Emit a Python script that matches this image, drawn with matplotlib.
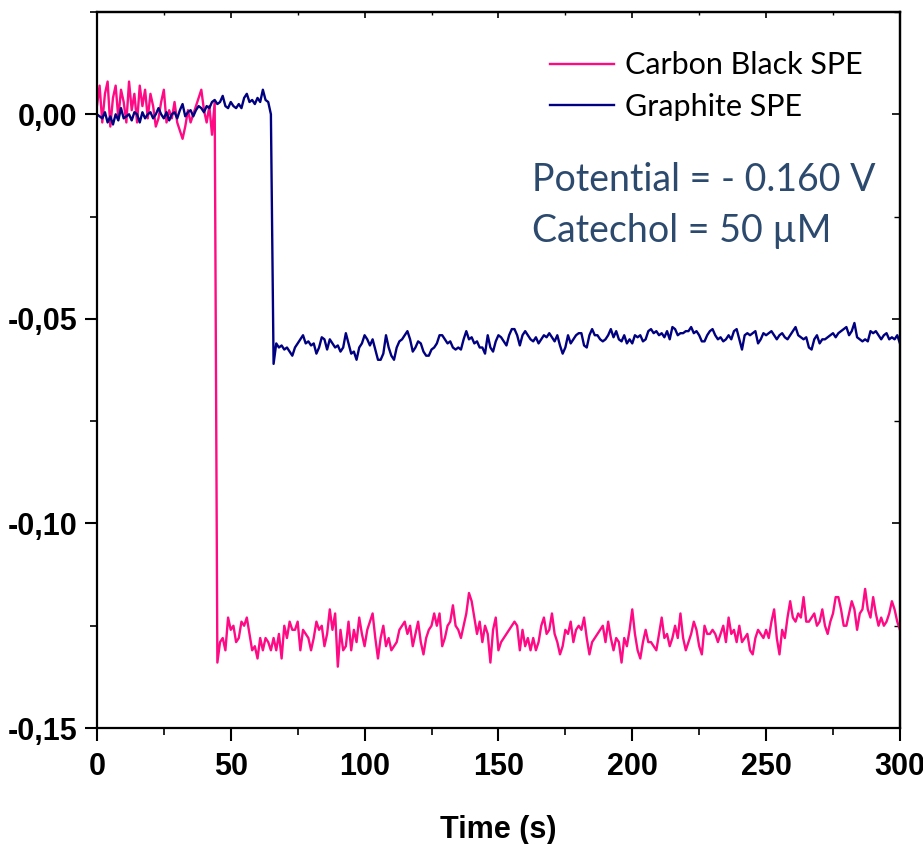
import numpy as np
import matplotlib
matplotlib.use("Agg")
import matplotlib.pyplot as plt
from matplotlib.ticker import MultipleLocator, FuncFormatter

# токи в единицах 1e-3, шаг 1 с (t = 0..300)
carbon_black = [
    2, 7, -2, 5, 8, -3, 4, 7, -1, 6,                                  # 0
    3, -2, 8, 1, 5, -2, 7, 2, 6, -1,                                  # 10
    5, 2, -3, -1, 3, 6, -2, 1, -1, 3,                                 # 20
    -2, -4, -6, -3, 1, -2, 0, 2, 4, 6,                                # 30
    1, -2, 2, -5, 3, -134, -129, -128, -131, -123,                    # 40
    -126, -125, -129, -128, -124, -125, -123, -127, -131, -130,       # 50
    -133, -128, -131, -128, -129, -131, -128, -131, -127, -133,       # 60
    -125, -128, -124, -126, -126, -124, -131, -126, -127, -128,       # 70
    -131, -128, -124, -126, -125, -130, -127, -121, -126, -122,       # 80
    -135, -126, -131, -130, -124, -131, -126, -129, -123, -127,       # 90
    -130, -126, -124, -122, -128, -133, -128, -125, -130, -128,       # 100
    -131, -130, -129, -126, -125, -124, -127, -125, -130, -127,       # 110
    -124, -129, -132, -128, -126, -125, -122, -125, -122, -130,       # 120
    -128, -125, -124, -120, -125, -126, -128, -125, -122, -117,       # 130
    -119, -123, -127, -124, -129, -125, -127, -134, -126, -123,       # 140
    -131, -129, -128, -127, -126, -125, -124, -125, -131, -126,       # 150
    -130, -128, -131, -128, -131, -129, -125, -123, -127, -126,       # 160
    -122, -127, -129, -132, -130, -126, -127, -124, -129, -126,       # 170
    -125, -126, -123, -128, -132, -129, -128, -127, -126, -125,       # 180
    -129, -124, -128, -131, -128, -129, -134, -128, -130, -126,       # 190
    -121, -127, -131, -133, -129, -126, -129, -129, -130, -131,       # 200
    -127, -123, -128, -127, -130, -128, -125, -128, -122, -128,       # 210
    -131, -129, -127, -124, -126, -130, -132, -125, -127, -127,       # 220
    -126, -127, -129, -127, -125, -129, -123, -127, -126, -129,       # 230
    -125, -129, -128, -127, -131, -132, -128, -126, -127, -128,       # 240
    -126, -128, -124, -121, -128, -132, -126, -128, -123, -119,       # 250
    -123, -124, -122, -123, -118, -124, -124, -123, -122, -125,       # 260
    -124, -121, -125, -127, -124, -122, -118, -118, -121, -125,       # 270
    -125, -122, -119, -121, -126, -122, -121, -116, -121, -123,       # 280
    -118, -122, -125, -123, -125, -124, -122, -119, -121, -124,       # 290
    -126,                                                             # 300
]

graphite = [
    0, -0.5, -1, 0.5, -2, -0.5, -2.5, 0, -1.5, 1.5,                   # 0
    -1, -0.5, 0, -1.5, 0.5, 0, -2, 0.5, -1, 0,                        # 10
    0.5, -1, 0, 1.5, 0, -1, 0.5, -1.5, 0, 0.5,                        # 20
    -1, 1, 2.5, -0.5, 0.5, 1, -0.5, 1, 2, 1.5,                        # 30
    0.5, 2, 1.5, 3, 3.5, 2.5, 3, 4.5, 2, 1.5,                         # 40
    3, 2, 1.5, 2.5, 1.5, 4, 5, 3, 3.5, 2.5,                           # 50
    4, 3, 6, 3.5, 3, 0, -61, -56, -57, -56.5,                         # 60
    -57.5, -57, -58, -59, -57, -56, -55, -54, -56, -55.5,             # 70
    -56.5, -56, -58.5, -57, -54.5, -55, -57.5, -55, -56, -57,         # 80
    -56.5, -58, -57, -53.5, -56, -58.5, -58, -60, -57, -56,           # 90
    -54, -55, -56.5, -55, -57.5, -60, -60, -58.5, -54, -57,           # 100
    -59, -60, -57, -55.5, -55, -54, -53, -55, -58, -57,               # 110
    -55.5, -56, -58, -59, -59, -57.5, -57, -56, -54, -54,             # 120
    -55, -56, -55.5, -57, -57.5, -57, -57.5, -55, -53, -55,           # 130
    -54.5, -56, -55.5, -57, -57, -58.5, -54, -57, -58, -55.5,         # 140
    -54, -54.5, -55.5, -56.5, -54, -52.5, -52.5, -54, -56.5, -54,     # 150
    -53, -54, -55, -55.5, -54.5, -56, -55, -54, -54.5, -53.5,         # 160
    -54.5, -55.5, -54, -56.5, -58.5, -57, -54, -56, -55, -54,         # 170
    -53.5, -53.5, -56.5, -57, -54, -52.5, -54, -54, -55, -55.5,       # 180
    -55, -54, -52.5, -54.5, -53, -55, -55.5, -54, -56, -55,           # 190
    -56, -54, -54.5, -54, -55.5, -55, -53, -52.5, -53.5, -53,         # 200
    -54, -53.5, -54.5, -53, -55, -52, -52.5, -54, -53.5, -53.5,       # 210
    -53, -53, -52, -53.5, -53, -54, -55.5, -55.5, -54, -53,           # 220
    -52.5, -54, -55, -54.5, -55.5, -55, -54, -55, -53, -52.5,         # 230
    -55, -57.5, -54, -53.5, -54, -53.5, -53, -56, -55, -53.5,         # 240
    -54, -53.5, -53, -54, -55, -54, -53.5, -54.5, -55, -54,           # 250
    -53, -52, -54, -54.5, -55, -54.5, -57, -57.5, -55, -54,           # 260
    -56, -55, -55, -54.5, -54, -53.5, -54.5, -53.5, -53, -52.5,       # 270
    -52, -54, -53, -51, -54.5, -55, -55.5, -55, -55.5, -53,           # 280
    -53.5, -53, -54, -55, -54, -53.5, -55, -54.5, -55, -54,           # 290
    -56,                                                              # 300
]

t_cb = np.arange(len(carbon_black))
t_gr = np.arange(len(graphite))

tick_font = ["Liberation Sans", "DejaVu Sans"]
text_font = ["Lato", "DejaVu Sans"]

fig = plt.figure(figsize=(9.23, 8.44), dpi=100)
ax = fig.add_axes([0.105, 0.1374, 0.870, 0.8484])

ax.plot(t_cb, np.array(carbon_black) * 1e-3, color="#ff0a84", lw=1.7, label="Carbon Black SPE")
ax.plot(t_gr, np.array(graphite) * 1e-3, color="#000080", lw=1.7, label="Graphite SPE")

ax.set_xlim(0, 300)
ax.set_ylim(-0.15, 0.025)

ax.xaxis.set_major_locator(MultipleLocator(50))
ax.xaxis.set_minor_locator(MultipleLocator(25))
ax.yaxis.set_major_locator(MultipleLocator(0.05))
ax.yaxis.set_minor_locator(MultipleLocator(0.025))


def comma_fmt(v, pos):
    if abs(v) < 1e-9:
        v = 0.0
    return f"{v:.2f}".replace(".", ",")


ax.yaxis.set_major_formatter(FuncFormatter(comma_fmt))

for s in ax.spines.values():
    s.set_linewidth(1.6)
ax.tick_params(which="major", direction="out", length=9, width=1.5)
ax.tick_params(which="minor", direction="out", length=5, width=1.2)
ax.tick_params(axis="y", pad=5)
ax.tick_params(axis="x", pad=8)
for lab in ax.get_xticklabels() + ax.get_yticklabels():
    lab.set_family(tick_font)
    lab.set_fontweight("bold")
    lab.set_fontsize(22)

# засечки сверху и справа внутрь
top = ax.secondary_xaxis("top")
top.xaxis.set_major_locator(MultipleLocator(50))
top.xaxis.set_minor_locator(MultipleLocator(25))
top.tick_params(which="major", direction="in", length=4, width=1.2, labeltop=False)
top.tick_params(which="minor", direction="in", length=2, width=1.0)
right = ax.secondary_yaxis("right")
right.yaxis.set_major_locator(MultipleLocator(0.05))
right.yaxis.set_minor_locator(MultipleLocator(0.025))
right.tick_params(which="major", direction="in", length=6, width=1.2, labelright=False)
right.tick_params(which="minor", direction="in", length=4, width=1.0)
top.spines["top"].set_linewidth(1.6)
right.spines["right"].set_linewidth(1.6)

ax.set_xlabel("Time (s)", family=tick_font, fontweight="bold", fontsize=22, labelpad=24)

ax.legend(loc="upper left", bbox_to_anchor=(0.564, 0.945), frameon=False,
          prop={"family": text_font, "size": 22}, handlelength=2.1,
          handletextpad=0.35, labelspacing=0.43, borderpad=0, borderaxespad=0)

ax.text(0.5417, 0.766, "Potential = - 0.160 V", transform=ax.transAxes,
        ha="left", va="center", family=text_font, fontsize=27, color="#2c4a6e")
ax.text(0.5417, 0.694, "Catechol = 50 \u00b5M", transform=ax.transAxes,
        ha="left", va="center", family=text_font, fontsize=27, color="#2c4a6e")

fig.savefig("out.png", dpi=100)
